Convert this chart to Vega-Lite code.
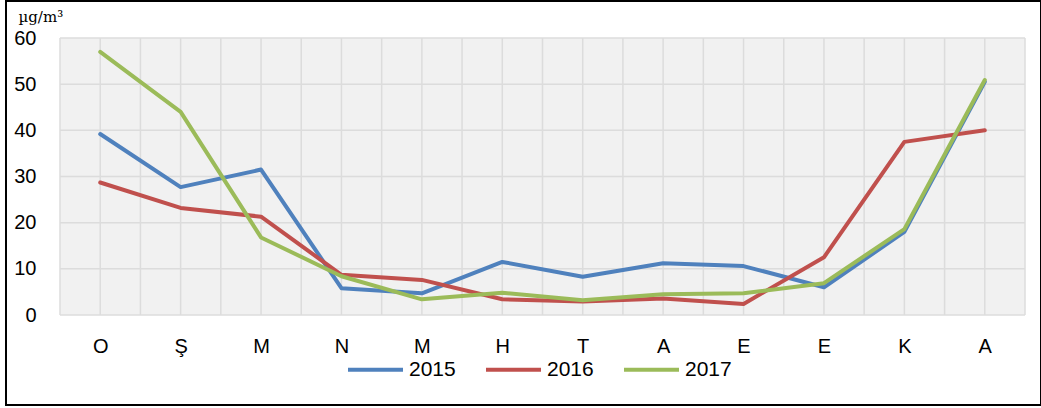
{
  "$schema": "https://vega.github.io/schema/vega-lite/v6.json",
  "autosize": {"type": "none"},
  "padding": {"left": 6, "top": 1, "right": 0, "bottom": 3},
  "width": 1035,
  "height": 404,
  "background": "white",
  "config": {
    "view": {"stroke": "black", "strokeWidth": 2},
    "font": "Liberation Sans"
  },
  "datasets": {
    "pm": [
      {"month": 1, "year": "2015", "value": 39.2},
      {"month": 2, "year": "2015", "value": 27.7},
      {"month": 3, "year": "2015", "value": 31.5},
      {"month": 4, "year": "2015", "value": 5.8},
      {"month": 5, "year": "2015", "value": 4.7},
      {"month": 6, "year": "2015", "value": 11.5},
      {"month": 7, "year": "2015", "value": 8.3},
      {"month": 8, "year": "2015", "value": 11.2},
      {"month": 9, "year": "2015", "value": 10.6},
      {"month": 10, "year": "2015", "value": 6.0},
      {"month": 11, "year": "2015", "value": 18.0},
      {"month": 12, "year": "2015", "value": 50.5},
      {"month": 1, "year": "2016", "value": 28.7},
      {"month": 2, "year": "2016", "value": 23.2},
      {"month": 3, "year": "2016", "value": 21.3},
      {"month": 4, "year": "2016", "value": 8.7},
      {"month": 5, "year": "2016", "value": 7.6},
      {"month": 6, "year": "2016", "value": 3.4},
      {"month": 7, "year": "2016", "value": 2.9},
      {"month": 8, "year": "2016", "value": 3.6},
      {"month": 9, "year": "2016", "value": 2.4},
      {"month": 10, "year": "2016", "value": 12.5},
      {"month": 11, "year": "2016", "value": 37.5},
      {"month": 12, "year": "2016", "value": 40.0},
      {"month": 1, "year": "2017", "value": 57.0},
      {"month": 2, "year": "2017", "value": 44.0},
      {"month": 3, "year": "2017", "value": 16.8},
      {"month": 4, "year": "2017", "value": 8.4},
      {"month": 5, "year": "2017", "value": 3.4},
      {"month": 6, "year": "2017", "value": 4.8},
      {"month": 7, "year": "2017", "value": 3.2},
      {"month": 8, "year": "2017", "value": 4.5},
      {"month": 9, "year": "2017", "value": 4.7},
      {"month": 10, "year": "2017", "value": 6.9},
      {"month": 11, "year": "2017", "value": 18.6},
      {"month": 12, "year": "2017", "value": 50.9}
    ],
    "vgrid": [
      {"g": 0.5}, {"g": 1}, {"g": 1.5}, {"g": 2}, {"g": 2.5}, {"g": 3}, {"g": 3.5},
      {"g": 4}, {"g": 4.5}, {"g": 5}, {"g": 5.5}, {"g": 6}, {"g": 6.5}, {"g": 7},
      {"g": 7.5}, {"g": 8}, {"g": 8.5}, {"g": 9}, {"g": 9.5}, {"g": 10}, {"g": 10.5},
      {"g": 11}, {"g": 11.5}, {"g": 12}, {"g": 12.5}
    ],
    "hgrid": [
      {"g": 0}, {"g": 10}, {"g": 20}, {"g": 30}, {"g": 40}, {"g": 50}, {"g": 60}
    ],
    "area": [
      {"x0": 0.5, "x1": 12.5, "y0": 0, "y1": 60}
    ]
  },
  "layer": [
    {
      "data": {"name": "area"},
      "mark": {"type": "rect", "fill": "#f1f1f1", "stroke": null},
      "encoding": {
        "x": {"field": "x0", "type": "quantitative", "scale": {"domain": [0.5, 12.5], "range": [54, 1019], "padding": 0, "nice": false, "zero": false}},
        "x2": {"field": "x1"},
        "y": {"field": "y0", "type": "quantitative", "scale": {"domain": [0, 60], "range": [314, 37], "padding": 0, "nice": false}},
        "y2": {"field": "y1"}
      }
    },
    {
      "data": {"name": "vgrid"},
      "mark": {"type": "rule", "color": "#dcdcdc", "strokeWidth": 1.5},
      "encoding": {
        "x": {"field": "g", "type": "quantitative"},
        "y": {"datum": 0, "type": "quantitative"},
        "y2": {"datum": 60}
      }
    },
    {
      "data": {"name": "hgrid"},
      "mark": {"type": "rule", "color": "#dcdcdc", "strokeWidth": 1.5},
      "encoding": {
        "y": {"field": "g", "type": "quantitative"},
        "x": {"datum": 0.5, "type": "quantitative"},
        "x2": {"datum": 12.5}
      }
    },
    {
      "data": {"name": "pm"},
      "mark": {"type": "line", "strokeWidth": 4, "strokeJoin": "round", "strokeCap": "round"},
      "encoding": {
        "x": {
          "field": "month", "type": "quantitative",
          "axis": {
            "values": [1, 2, 3, 4, 5, 6, 7, 8, 9, 10, 11, 12],
            "labelExpr": "['O','Ş','M','N','M','H','T','A','E','E','K','A'][datum.value - 1]",
            "grid": false, "ticks": false, "domain": false, "title": null,
            "offset": -90, "labelPadding": 21, "labelFontSize": 20,
            "labelColor": "black", "labelFont": "Liberation Sans", "labelBaseline": "top"
          }
        },
        "y": {
          "field": "value", "type": "quantitative",
          "axis": {
            "values": [0, 10, 20, 30, 40, 50, 60],
            "grid": false, "ticks": false, "domain": false,
            "offset": -54, "labelPadding": 24, "labelFontSize": 20,
            "labelColor": "black", "labelFont": "Liberation Sans",
            "title": "µg/m³", "titleAngle": 0, "titleX": -42, "titleY": 20,
            "titleAlign": "left", "titleBaseline": "alphabetic",
            "titleFont": "DejaVu Serif", "titleFontSize": 15, "titleFontWeight": "normal",
            "titleColor": "black"
          }
        },
        "color": {
          "field": "year", "type": "nominal",
          "scale": {"domain": ["2015", "2016", "2017"], "range": ["#4F81BD", "#C0504D", "#9BBB59"]},
          "legend": {
            "orient": "none", "legendX": 340, "legendY": 339, "direction": "horizontal",
            "title": null, "symbolType": "stroke", "symbolSize": 3025, "symbolStrokeWidth": 4,
            "labelFontSize": 21, "labelFont": "Liberation Sans", "labelColor": "black",
            "labelOffset": 4, "columnPadding": 22
          }
        }
      }
    }
  ]
}
